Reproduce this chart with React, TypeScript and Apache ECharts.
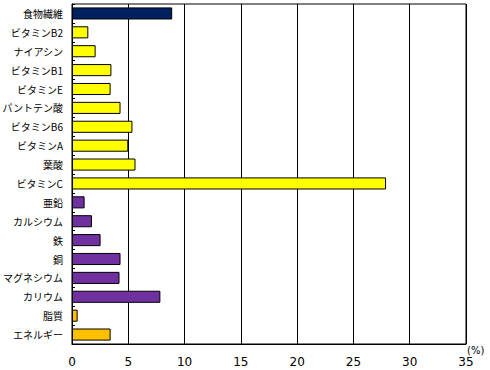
import React, { useEffect, useRef } from "react";
import * as echarts from "echarts";

const categories = [
  "食物繊維", "ビタミンB2", "ナイアシン", "ビタミンB1", "ビタミンE", "パントテン酸",
  "ビタミンB6", "ビタミンA", "葉酸", "ビタミンC", "亜鉛", "カルシウム", "鉄", "銅",
  "マグネシウム", "カリウム", "脂質", "エネルギー",
];
const values = [8.9, 1.45, 2.1, 3.5, 3.43, 4.31, 5.37, 5.0, 5.64, 27.9, 1.12, 1.77, 2.54, 4.31, 4.22, 7.85, 0.5, 3.43];
const groups = [
  "fiber", "vit", "vit", "vit", "vit", "vit", "vit", "vit", "vit", "vit",
  "min", "min", "min", "min", "min", "min", "macro", "macro",
];
const groupColors: Record<string, string> = {
  fiber: "#002060",
  vit: "#FFFF00",
  min: "#7030A0",
  macro: "#FFC000",
};
const xTicks = [0, 5, 10, 15, 20, 25, 30, 35];

export default function App() {
  const ref = useRef<HTMLDivElement>(null);
  useEffect(() => {
    const chart = echarts.init(ref.current!, undefined, { renderer: "svg" });
    chart.setOption({
      animation: false,
      grid: {
        left: 71, right: 24, top: 4, bottom: 26,
        show: true, borderColor: "#000", borderWidth: 1,
      },
      xAxis: {
        type: "value",
        min: xTicks[0],
        max: xTicks[xTicks.length - 1],
        interval: 5,
        axisLine: { show: true, lineStyle: { color: "#000", width: 1 } },
        axisTick: { show: false },
        axisLabel: { color: "#000", fontSize: 12, margin: 12, fontFamily: "DejaVu Sans" },
        splitLine: { show: true, lineStyle: { color: "#000", width: 1 } },
      },
      yAxis: {
        type: "category",
        data: categories,
        inverse: true,
        axisLine: { show: true, lineStyle: { color: "#000", width: 1 } },
        axisTick: { show: true, inside: true, length: 3, lineStyle: { color: "#000" } },
        axisLabel: { color: "#000", fontSize: 10, margin: 9, fontFamily: "Noto Sans CJK JP" },
      },
      series: [
        {
          type: "bar",
          data: values.map((v, i) => ({
            value: v,
            itemStyle: { color: groupColors[groups[i]] },
          })),
          barWidth: "64%",
          itemStyle: { borderColor: "#000", borderWidth: 1 },
        },
      ],
      graphic: [
        {
          type: "text",
          left: 467,
          top: 345,
          style: { text: "(%)", fontSize: 10, fill: "#000", fontFamily: "DejaVu Sans" },
        },
      ],
    });
    return () => chart.dispose();
  }, []);
  return <div ref={ref} style={{ width: 490, height: 370, position: "absolute", left: 0, top: 0 }} />;
}
